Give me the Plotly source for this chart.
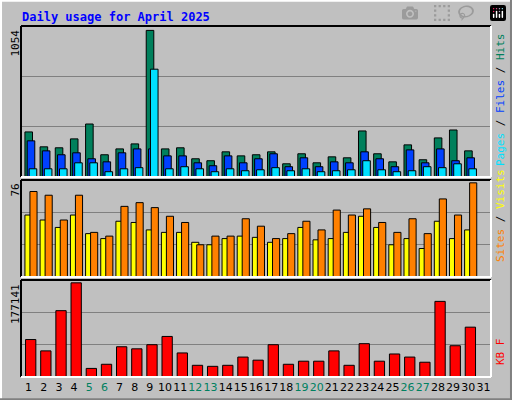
import plotly.graph_objects as go

days = list(range(1, 31))
hits = [324, 217, 210, 274, 381, 160, 202, 238, 1054, 202, 210, 131, 117, 181, 152,
        160, 181, 95, 167, 102, 145, 138, 331, 167, 109, 231, 124, 281, 338, 188]
files = [260, 188, 160, 174, 131, 109, 174, 202, 202, 152, 152, 102, 81, 152, 102,
         131, 167, 74, 138, 74, 109, 102, 181, 131, 74, 195, 102, 202, 117, 138]
pages = [59, 59, 59, 102, 102, 38, 59, 67, 775, 59, 74, 59, 38, 59, 45,
         52, 67, 45, 59, 38, 45, 52, 117, 52, 38, 45, 74, 67, 95, 59]
visits = [50, 46, 40, 50, 35, 31, 45, 44, 38, 36, 36, 28, 26, 31, 33,
          32, 28, 31, 40, 30, 31, 36, 49, 40, 26, 31, 23, 45, 31, 38]
sites = [69, 66, 46, 66, 36, 33, 57, 60, 56, 49, 44, 26, 33, 33, 47,
         41, 31, 35, 45, 38, 54, 50, 55, 44, 36, 47, 35, 63, 50, 76]
kbytes = [70469, 49134, 124775, 177141, 16163, 23921, 56892, 53013, 60771, 76287,
          45255, 21981, 20042, 21981, 37497, 31679, 60771, 23921, 29739, 29739,
          49134, 21981, 62711, 29739, 43316, 37497, 27800, 142230, 58832, 93743]
weekends = [5, 6, 12, 13, 19, 20, 26, 27]
max_labels = ["1054", "76", "177141"]

MONO = "DejaVu Sans Mono"
line = dict(color="black", width=1)

fig = go.Figure()


def bars(y, color, offset, width, ax):
    fig.add_trace(go.Bar(x=days, y=y, offset=offset, width=width, marker_color=color,
                         marker_line=line, xaxis="x" + ax, yaxis="y" + ax,
                         showlegend=False, hoverinfo="skip"))


bars(hits, "#00805c", -0.24, 0.5, "")
bars(files, "#0040ff", -0.09, 0.5, "")
bars(pages, "#00e0ff", 0.04, 0.5, "")
bars(visits, "#ffff00", -0.24, 0.47, "2")
bars(sites, "#ff8000", 0.09, 0.47, "2")
bars(kbytes, "#ff0000", -0.2, 0.68, "3")

tick_text = [f'<span style="color:{"#008060" if d in weekends else "black"}">{d}</span>'
             for d in range(1, 32)]
xcommon = dict(range=[0.5, 31.5], domain=[0.041, 0.959], showgrid=False,
               zeroline=False, showline=False, fixedrange=True)
fig.update_layout(
    width=512, height=400, margin=dict(l=0, r=0, t=0, b=0),
    paper_bgcolor="#c0c0c0", plot_bgcolor="#c0c0c0", barmode="overlay",
    font=dict(family=MONO, size=11, color="black"),
    xaxis=dict(**xcommon, anchor="y", showticklabels=False),
    xaxis2=dict(**xcommon, anchor="y2", showticklabels=False),
    xaxis3=dict(**xcommon, anchor="y3", tickvals=list(range(1, 32)), ticktext=tick_text,
                tickfont=dict(family="DejaVu Sans", size=11), ticks="", tickangle=0,
                ticklabelstandoff=2),
)
doms = [[0.5575, 0.935], [0.3075, 0.55], [0.0575, 0.30]]
for i, (mx, dom) in enumerate(zip([1054, 76, 177141], doms)):
    top = mx * 1.03
    suffix = "" if i == 0 else str(i + 1)
    fig.update_layout({"yaxis" + suffix: dict(
        domain=dom, range=[0, top], tickvals=[top / 3, 2 * top / 3],
        showticklabels=False, gridcolor="#808080", gridwidth=1,
        zeroline=False, fixedrange=True, anchor="x" + suffix)})

shapes = [
    dict(type="line", xref="paper", yref="paper", x0=0, x1=1, y0=0.998, y1=0.998, line=dict(color="white", width=2)),
    dict(type="line", xref="paper", yref="paper", x0=0.002, x1=0.002, y0=0, y1=1, line=dict(color="white", width=2)),
    dict(type="line", xref="paper", yref="paper", x0=0, x1=1, y0=0.002, y1=0.002, line=dict(color="#808080", width=2)),
    dict(type="line", xref="paper", yref="paper", x0=0.998, x1=0.998, y0=0, y1=1, line=dict(color="#808080", width=2)),
]
for dom in doms:
    x0, x1, y0, y1 = 0.041, 0.959, dom[0], dom[1]
    shapes += [
        dict(type="line", xref="paper", yref="paper", x0=x0, x1=x1, y0=y1, y1=y1, line=dict(color="black", width=2)),
        dict(type="line", xref="paper", yref="paper", x0=x0, x1=x0, y0=y0, y1=y1, line=dict(color="black", width=2)),
        dict(type="line", xref="paper", yref="paper", x0=x0, x1=x1, y0=y0, y1=y0, line=dict(color="white", width=2)),
        dict(type="line", xref="paper", yref="paper", x0=x1, x1=x1, y0=y0, y1=y1, line=dict(color="white", width=2)),
    ]
fig.update_layout(shapes=shapes)

ann = [dict(text="<b>Daily usage for April 2025</b>", x=20 / 512, y=1 - 8 / 400, xanchor="left",
            yanchor="top", font=dict(color="#0000ff", size=12, family=MONO))]
for lbl, dom in zip(max_labels, doms):
    ann.append(dict(text=lbl, x=15 / 512, y=dom[1] - 0.005, xanchor="center", yanchor="top",
                    textangle=-90, font=dict(size=11, family=MONO)))
right = [
    ('<span style="color:#00e0ff">Pages</span> / <span style="color:#0040ff">Files</span> / '
     '<span style="color:#00805c">Hits</span>', 0.75),
    ('<span style="color:#ff8000">Sites</span> / <span style="color:#ffff00">Visits</span>', 0.46),
    ('<span style="color:#ff0000">KB F</span>', 0.12),
]
for txt, y in right:
    ann.append(dict(text=txt, x=500 / 512, y=y, xanchor="center", yanchor="middle",
                    textangle=-90, font=dict(size=11, family=MONO, color="black")))
for a in ann:
    a.update(xref="paper", yref="paper", showarrow=False)
fig.update_layout(annotations=ann)

fig.write_html("out.html", post_script="document.body.style.margin='0';")
